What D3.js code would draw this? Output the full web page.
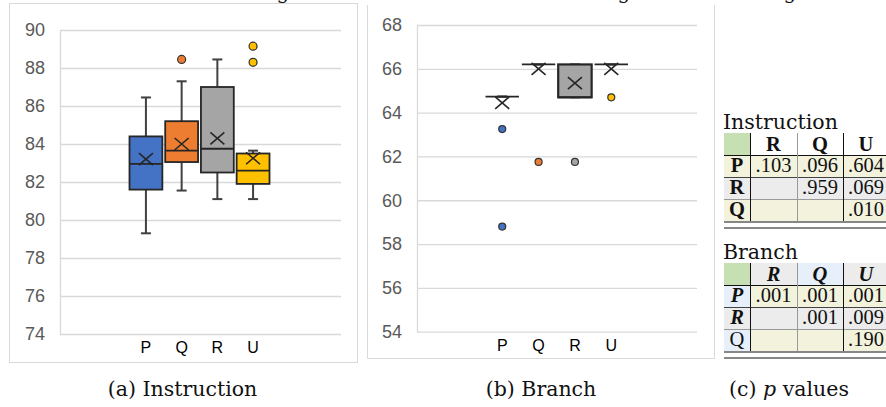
<!DOCTYPE html>
<meta charset="utf-8">
<style>
body { margin: 0; background: #fff; }
svg { display: block; }
.axis .tick text { font-family: "Liberation Sans", Arial, sans-serif; font-size: 18px; fill: #595959; }
.axis .tick line, .axis path { stroke: #d9d9d9; stroke-width: 1.3; }
.xlab { font-family: "Liberation Sans", Arial, sans-serif; font-size: 16px; fill: #000; text-anchor: middle; }
.serif { font-family: "DejaVu Serif", serif; fill: #111; }
.num { font-family: "Liberation Serif", serif; font-size: 20.5px; fill: #111; text-anchor: middle; }
</style>
<svg width="886" height="407"></svg>
<script src="https://cdnjs.cloudflare.com/ajax/libs/d3/7.8.5/d3.min.js"></script>
<script>

var categories = ["P", "Q", "R", "U"];
var colors = ["#4472c4", "#ed7d31", "#a5a5a5", "#ffc000"];

// (a) Instruction
var instrTicks = [74, 76, 78, 80, 82, 84, 86, 88, 90];
var instrMin    = [79.3, 81.55, 81.1, 81.1];
var instrQ1     = [81.6, 83.05, 82.5, 81.9];
var instrMedian = [82.95, 83.65, 83.75, 82.6];
var instrQ3     = [84.4, 85.2, 87.0, 83.5];
var instrMax    = [86.45, 87.3, 88.45, 83.65];
var instrMean   = [83.2, 84.0, 84.3, 83.25];
var instrOutliers = [[], [88.45], [], [89.15, 88.3]];

// (b) Branch
var branchTicks = [54, 56, 58, 60, 62, 64, 66, 68];
var branchMin    = [64.73, 66.2, 64.7, 66.2];
var branchQ1     = [64.73, 66.2, 64.7, 66.2];
var branchMedian = [64.73, 66.2, 64.7, 66.2];
var branchQ3     = [64.73, 66.2, 66.2, 66.2];
var branchMax    = [64.73, 66.2, 66.2, 66.2];
var branchMean   = [64.45, 66.0, 65.35, 66.0];
var branchOutliers = [[63.25, 58.8], [61.75], [61.75], [64.7]];

// (c) p values
var tableCols = ["R", "Q", "U"];
var tableRows = ["P", "R", "Q"];
var instrP  = [[".103", ".096", ".604"], ["", ".959", ".069"], ["", "", ".010"]];
var branchP = [[".001", ".001", ".001"], ["", ".001", ".009"], ["", "", ".190"]];

var svg = d3.select("svg");

// cut-off caption text above the crop
[283, 624, 790].forEach(function(x) {
  svg.append("text").attr("class", "serif").attr("x", x).attr("y", -1)
    .attr("font-size", 20).attr("text-anchor", "middle").text("g");
});

function boxChart(opt) {
  var g = svg.append("g");
  var y = d3.scaleLinear().domain(opt.domain).range(opt.yRange);
  var x = d3.scaleBand().domain(categories).range(opt.xBand).paddingInner(0.08);

  g.append("g").attr("class", "axis")
    .attr("transform", "translate(" + opt.plotX[0] + ",0)")
    .call(d3.axisLeft(y).tickValues(opt.ticks).tickFormat(d3.format("d"))
      .tickSize(-(opt.plotX[1] - opt.plotX[0])).tickSizeOuter(0).tickPadding(15));

  var bw = x.bandwidth();
  categories.forEach(function(c, i) {
    var cx = x(c) + bw / 2;
    var s = g.append("g");
    // whiskers
    s.append("line").attr("x1", cx).attr("x2", cx)
      .attr("y1", y(opt.max[i])).attr("y2", y(opt.q3[i]))
      .attr("stroke", "#404040").attr("stroke-width", 2);
    s.append("line").attr("x1", cx).attr("x2", cx)
      .attr("y1", y(opt.q1[i])).attr("y2", y(opt.min[i]))
      .attr("stroke", "#404040").attr("stroke-width", 2);
    [opt.max[i], opt.min[i]].forEach(function(v) {
      s.append("line").attr("x1", cx - 5).attr("x2", cx + 5)
        .attr("y1", y(v)).attr("y2", y(v))
        .attr("stroke", "#404040").attr("stroke-width", 2);
    });
    // box
    s.append("rect").attr("x", x(c)).attr("width", bw)
      .attr("y", y(opt.q3[i])).attr("height", y(opt.q1[i]) - y(opt.q3[i]))
      .attr("fill", colors[i]).attr("stroke", "#262626").attr("stroke-width", opt.boxStroke);
    s.append("line").attr("x1", x(c)).attr("x2", x(c) + bw)
      .attr("y1", y(opt.median[i])).attr("y2", y(opt.median[i]))
      .attr("stroke", "#262626").attr("stroke-width", 1.8);
    // mean marker
    var my = y(opt.mean[i]);
    s.append("path")
      .attr("d", "M" + (cx - 7) + "," + (my - 6) + "L" + (cx + 7) + "," + (my + 6) +
                 "M" + (cx - 7) + "," + (my + 6) + "L" + (cx + 7) + "," + (my - 6))
      .attr("stroke", "#262626").attr("stroke-width", 1.6).attr("fill", "none");
    // outliers
    opt.outliers[i].forEach(function(v) {
      s.append("circle").attr("cx", cx).attr("cy", y(v)).attr("r", opt.r)
        .attr("fill", colors[i]).attr("stroke", "#333").attr("stroke-width", 1.2);
    });
    g.append("text").attr("class", "xlab").attr("x", cx).attr("y", opt.labelY).text(c);
  });
}

// panel frames
svg.append("rect").attr("x", 9.5).attr("y", 3.5).attr("width", 348).attr("height", 359)
  .attr("fill", "none").attr("stroke", "#d9d9d9").attr("stroke-width", 1);
svg.append("path").attr("d", "M367.5,5V358.5H714.5V5")
  .attr("fill", "none").attr("stroke", "#d9d9d9").attr("stroke-width", 1);

boxChart({
  domain: [74, 90], yRange: [334, 30], ticks: instrTicks,
  plotX: [60, 341], xBand: [129.5, 269.5], labelY: 353,
  min: instrMin, q1: instrQ1, median: instrMedian, q3: instrQ3, max: instrMax,
  mean: instrMean, outliers: instrOutliers, r: 4, boxStroke: 1.8
});

boxChart({
  domain: [54, 68], yRange: [331.7, 25], ticks: branchTicks,
  plotX: [417, 697], xBand: [485.5, 628], labelY: 351,
  min: branchMin, q1: branchQ1, median: branchMedian, q3: branchQ3, max: branchMax,
  mean: branchMean, outliers: branchOutliers, r: 3.5, boxStroke: 2.2
});

// p-value tables
var colX = [724, 750, 797, 843, 889];

function pTable(opt) {
  var g = svg.append("g");
  var top = opt.top, rh = 22;
  g.append("text").attr("class", "serif").attr("x", 723).attr("y", top - 4)
    .attr("font-size", 20.5).text(opt.title);
  // header row
  g.append("rect").attr("x", colX[0]).attr("y", top).attr("width", colX[1] - colX[0]).attr("height", rh)
    .attr("fill", "#c6e0b4");
  tableCols.forEach(function(c, j) {
    g.append("rect").attr("x", colX[j + 1]).attr("y", top).attr("width", colX[j + 2] - colX[j + 1])
      .attr("height", rh).attr("fill", opt.headFill[j]);
    g.append("text").attr("class", "num").attr("x", (colX[j + 1] + colX[j + 2]) / 2)
      .attr("y", top + rh - 4).attr("font-weight", "bold")
      .attr("font-style", opt.italic ? "italic" : "normal").text(c);
  });
  tableRows.forEach(function(r, i) {
    var ry = top + rh * (i + 1);
    g.append("rect").attr("x", colX[1]).attr("y", ry).attr("width", colX[4] - colX[1]).attr("height", rh)
      .attr("fill", opt.rowFill[i]);
    g.append("rect").attr("x", colX[0]).attr("y", ry).attr("width", colX[1] - colX[0]).attr("height", rh)
      .attr("fill", opt.rowHeadFill[i]);
    var plain = opt.plainRowHead[i];
    g.append("text").attr("class", "num").attr("x", (colX[0] + colX[1]) / 2).attr("y", ry + rh - 5)
      .attr("font-weight", plain ? "normal" : "bold")
      .attr("font-style", opt.italic && !plain ? "italic" : "normal").text(r);
    opt.values[i].forEach(function(v, j) {
      g.append("text").attr("class", "num").attr("x", (colX[j + 1] + colX[j + 2]) / 2)
        .attr("y", ry + rh - 5).text(v);
    });
    if (i > 0) {
      g.append("line").attr("x1", colX[0]).attr("x2", 886).attr("y1", ry + 0.5).attr("y2", ry + 0.5)
        .attr("stroke", i == 1 ? "#444" : "#999").attr("stroke-width", 1);
    }
  });
  var bottom = top + rh * 4;
  g.append("line").attr("x1", colX[0]).attr("x2", 886).attr("y1", top + rh + 0.5).attr("y2", top + rh + 0.5)
    .attr("stroke", "#111").attr("stroke-width", 1.2);
  [bottom + 1, bottom + 7].forEach(function(yy) {
    g.append("line").attr("x1", colX[0]).attr("x2", 886).attr("y1", yy).attr("y2", yy)
      .attr("stroke", "#111").attr("stroke-width", 1.2);
  });
  [[colX[1], "#111"], [colX[2], "#999"], [colX[3], "#111"]].forEach(function(d) {
    g.append("line").attr("x1", d[0] + 0.5).attr("x2", d[0] + 0.5).attr("y1", top).attr("y2", bottom)
      .attr("stroke", d[1]).attr("stroke-width", 1);
  });
}

pTable({
  title: "Instruction", top: 133, values: instrP, italic: false,
  headFill: ["#fff", "#fff", "#fff"],
  rowFill: ["#f3f3dd", "#ececec", "#f3f3dd"],
  rowHeadFill: ["#f3f3dd", "#ececec", "#f3f3dd"],
  plainRowHead: [false, false, false]
});

pTable({
  title: "Branch", top: 263, values: branchP, italic: true,
  headFill: ["#ececec", "#e7effb", "#ececec"],
  rowFill: ["#f3f3dd", "#ececec", "#f3f3dd"],
  rowHeadFill: ["#e7effb", "#ececec", "#e7effb"],
  plainRowHead: [false, false, true]
});

// captions
svg.append("text").attr("class", "serif").attr("x", 182.5).attr("y", 396)
  .attr("font-size", 20.5).attr("text-anchor", "middle").text("(a) Instruction");
svg.append("text").attr("class", "serif").attr("x", 541).attr("y", 396)
  .attr("font-size", 20.5).attr("text-anchor", "middle").text("(b) Branch");
var cap = svg.append("text").attr("class", "serif").attr("x", 789).attr("y", 396)
  .attr("font-size", 20.5).attr("text-anchor", "middle");
cap.append("tspan").text("(c) ");
cap.append("tspan").attr("font-style", "italic").text("p");
cap.append("tspan").text(" values");

</script>
